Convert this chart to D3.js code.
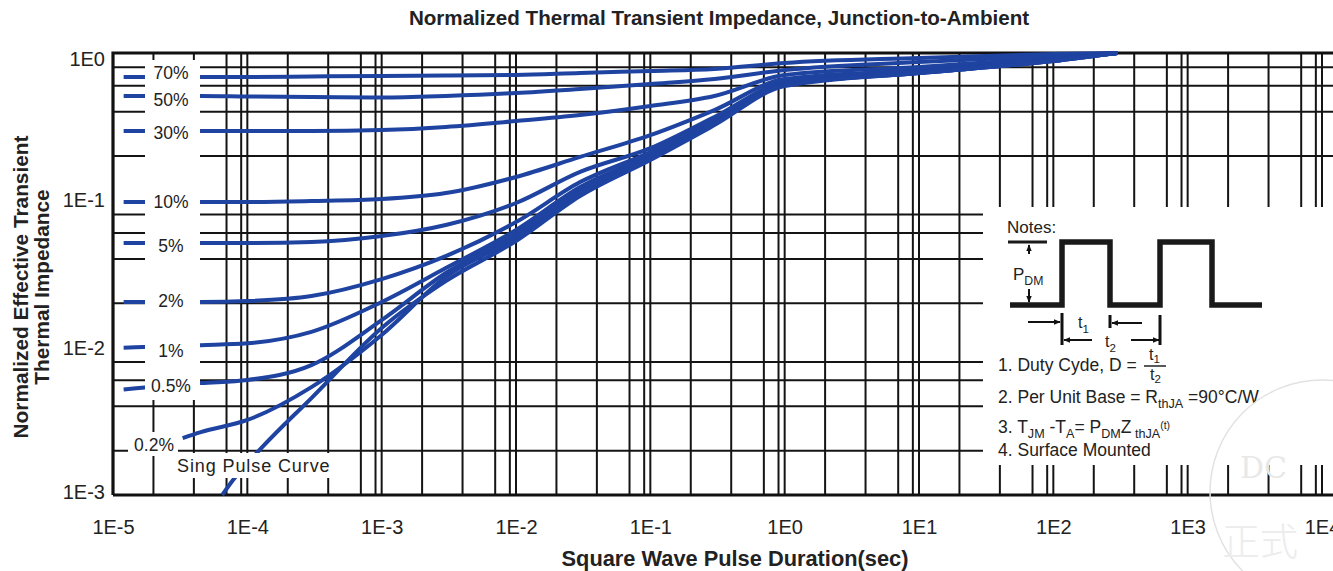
<!DOCTYPE html>
<html>
<head>
<meta charset="utf-8">
<script src="https://cdn.jsdelivr.net/npm/d3@7"></script>
<style>
  body { margin: 0; background: #fff; }
  svg { display: block; font-family: "Liberation Sans", Arial, sans-serif; }
  text { white-space: pre; }
</style>
</head>
<body>
<div id="chart"></div>
<script>
// pulse duration (s) and normalized Zth for each duty cycle
const tDuty   = [1.2e-5, 4.5e-5, 1e-4, 3e-4, 1e-3, 3e-3, 1e-2, 3e-2, 0.1, 0.3, 1, 10, 100, 300];
const z70  = [0.687, 0.687, 0.687, 0.693, 0.698, 0.703, 0.709, 0.732, 0.755, 0.779, 0.855, 0.925, 0.984, 1.0];
const z50  = [0.511, 0.511, 0.507, 0.503, 0.499, 0.511, 0.535, 0.570, 0.616, 0.666, 0.767, 0.869, 0.954, 1.0];
const z30  = [0.295, 0.295, 0.295, 0.295, 0.300, 0.315, 0.345, 0.379, 0.437, 0.511, 0.709, 0.803, 0.925, 1.0];
const z10  = [0.0974, 0.0974, 0.0974, 0.0989, 0.102, 0.112, 0.144, 0.197, 0.277, 0.410, 0.666, 0.767, 0.911, 1.0];
const z5   = [0.0513, 0.0513, 0.0513, 0.0521, 0.0572, 0.0680, 0.0959, 0.156, 0.226, 0.368, 0.635, 0.755, 0.896, 1.0];
const z2   = [0.0204, 0.0204, 0.0207, 0.0224, 0.0292, 0.0418, 0.0712, 0.133, 0.213, 0.351, 0.626, 0.743, 0.896, 1.0];
const z1   = [0.0100, 0.0104, 0.0107, 0.0128, 0.0204, 0.0347, 0.0629, 0.123, 0.203, 0.340, 0.616, 0.743, 0.896, 1.0];
const z05  = [0.0052, 0.00575, 0.00603, 0.00762, 0.0154, 0.0321, 0.0590, 0.117, 0.197, 0.335, 0.606, 0.732, 0.882, 1.0];

const t02 = [3.3e-5, 4.5e-5, 1e-4, 3e-4, 1e-3, 3e-3, 1e-2, 3e-2, 0.1, 0.3, 1, 10, 100, 300];
const z02 = [0.00243, 0.00267, 0.00323, 0.0054, 0.0122, 0.0302, 0.0555, 0.112, 0.194, 0.330, 0.606, 0.732, 0.882, 1.0];

const tSingle = [6.5e-5, 7.8e-5, 1.29e-4, 3e-4, 1e-3, 3e-3, 1e-2, 3e-2, 0.1, 0.3, 1, 10, 100, 300];
const zSingle = [0.001, 0.00126, 0.00211, 0.00455, 0.0136, 0.0283, 0.0529, 0.107, 0.188, 0.324, 0.597, 0.732, 0.882, 1.0];

const dutyLabels = ["70%", "50%", "30%", "10%", "5%", "2%", "1%", "0.5%"];
const dutyValues = [z70, z50, z30, z10, z5, z2, z1, z05];
const labelNudge = [-4, 4, 2, 0, 3, -1, 6, 3];

const xTicks = [1e-5, 1e-4, 1e-3, 1e-2, 1e-1, 1, 10, 100, 1000, 10000];
const xTickLabels = ["1E-5", "1E-4", "1E-3", "1E-2", "1E-1", "1E0", "1E1", "1E2", "1E3", "1E4"];
const yTicks = [1e-3, 1e-2, 1e-1, 1];
const yTickLabels = ["1E-3", "1E-2", "1E-1", "1E0"];

// the printed grid only carries a few lines per decade
const xGridSteps = [1, 2, 4, 7, 9];
const yGridSteps = [2, 4, 6, 8];

const width = 1333, height = 571;
const plotL = 113, plotR = 1333, plotT = 53, plotB = 495;
const blue = "#1f43a0";

const svg = d3.select("#chart").append("svg")
    .attr("width", width)
    .attr("height", height);

const defs = svg.append("defs");
defs.append("marker")
    .attr("id", "ah")
    .attr("viewBox", "0 0 10 10")
    .attr("refX", 9).attr("refY", 5)
    .attr("markerWidth", 7).attr("markerHeight", 7)
    .attr("markerUnits", "userSpaceOnUse")
    .attr("orient", "auto")
  .append("path")
    .attr("d", "M0,1 L10,5 L0,9 Z")
    .attr("fill", "#111");

const x = d3.scaleLog().domain([1e-5, 1e4]).range([plotL, 1322]);
const y = d3.scaleLog().domain([1e-3, 1]).range([plotB, plotT]);

// grid
const xGrid = [];
for (let e = -5; e <= 3; e++) xGridSteps.forEach(m => xGrid.push(m * Math.pow(10, e)));
xGrid.push(1e4);
const yGrid = [];
for (let e = -3; e <= -1; e++) yGridSteps.forEach(m => yGrid.push(m * Math.pow(10, e)));

const grid = svg.append("g").attr("stroke", "#141414").attr("stroke-width", 2);
grid.selectAll("line.v").data(xGrid).enter().append("line")
    .attr("class", "v")
    .attr("x1", d => x(d)).attr("x2", d => x(d))
    .attr("y1", plotT).attr("y2", plotB);
grid.selectAll("line.h").data(yGrid).enter().append("line")
    .attr("class", "h")
    .attr("x1", plotL).attr("x2", plotR)
    .attr("y1", d => y(d)).attr("y2", d => y(d));

// frame
svg.append("path")
    .attr("d", `M${plotL},${plotB} V${plotT} H${plotR} M${plotL},${plotB} H${plotR}`)
    .attr("fill", "none")
    .attr("stroke", "#111")
    .attr("stroke-width", 3.2);

// curves
const line = d3.line()
    .x(d => x(d[0]))
    .y(d => y(d[1]))
    .curve(d3.curveMonotoneX);

const curves = dutyValues.map((z, i) => ({ label: dutyLabels[i], pts: tDuty.map((t, k) => [t, z[k]]) }));
curves.push({ label: "0.2%", pts: t02.map((t, k) => [t, z02[k]]) });
curves.push({ label: "single", pts: tSingle.map((t, k) => [t, zSingle[k]]) });

svg.append("g").selectAll("path").data(curves).enter().append("path")
    .attr("d", d => line(d.pts))
    .attr("fill", "none")
    .attr("stroke", blue)
    .attr("stroke-width", 4)
    .attr("stroke-linecap", "butt");

// label column
svg.append("rect").attr("x", 145).attr("y", 60).attr("width", 55).attr("height", 340).attr("fill", "#fff");
svg.append("g").selectAll("text").data(dutyLabels).enter().append("text")
    .attr("x", 171)
    .attr("y", (d, i) => y(dutyValues[i][1]) + labelNudge[i])
    .attr("dy", "0.36em")
    .attr("text-anchor", "middle")
    .attr("font-size", 17.5)
    .attr("fill", "#222")
    .text(d => d);

svg.append("rect").attr("x", 128).attr("y", 432).attr("width", 50).attr("height", 24).attr("fill", "#fff");
svg.append("text")
    .attr("x", 174).attr("y", y(z02[0]) + 7)
    .attr("dy", "0.36em")
    .attr("text-anchor", "end")
    .attr("font-size", 17.5).attr("fill", "#222")
    .text("0.2%");

svg.append("rect").attr("x", 172).attr("y", 453).attr("width", 164).attr("height", 25).attr("fill", "#fff");
svg.append("text")
    .attr("x", 177).attr("y", 472)
    .attr("font-size", 18).attr("letter-spacing", 0.9).attr("fill", "#222")
    .text("Sing Pulse Curve");

// axes
const xAxis = svg.append("g")
    .attr("transform", `translate(0,${plotB})`)
    .call(d3.axisBottom(x).tickValues(xTicks).tickFormat((d, i) => xTickLabels[i]).tickSize(0).tickPadding(25));
xAxis.select(".domain").remove();
xAxis.selectAll("text").attr("font-size", 20).attr("fill", "#222")
    .attr("font-family", "Liberation Sans, Arial, sans-serif");

const yAxis = svg.append("g")
    .attr("transform", `translate(${plotL},0)`)
    .call(d3.axisLeft(y).tickValues(yTicks).tickFormat((d, i) => yTickLabels[i]).tickSize(0).tickPadding(8));
yAxis.select(".domain").remove();
yAxis.selectAll("text").attr("font-size", 20).attr("fill", "#222")
    .attr("font-family", "Liberation Sans, Arial, sans-serif");
yAxis.selectAll(".tick").filter(d => d === 1).select("text").attr("dy", "0.6em");
yAxis.selectAll(".tick").filter(d => d === 1e-3).select("text").attr("dy", "0.15em");

// titles
svg.append("text")
    .attr("x", 719).attr("y", 25)
    .attr("text-anchor", "middle")
    .attr("font-size", 20.6).attr("font-weight", "bold").attr("fill", "#222")
    .text("Normalized Thermal Transient Impedance, Junction-to-Ambient");

svg.append("text")
    .attr("x", 735).attr("y", 566)
    .attr("text-anchor", "middle")
    .attr("font-size", 21.8).attr("font-weight", "bold").attr("fill", "#222")
    .text("Square Wave Pulse Duration(sec)");

const yTitle = svg.append("text")
    .attr("transform", "translate(28,287) rotate(-90)")
    .attr("text-anchor", "middle")
    .attr("font-size", 20.8).attr("font-weight", "bold").attr("fill", "#222");
yTitle.append("tspan").attr("x", 0).attr("y", 0).text("Normalized Effective Transient");
yTitle.append("tspan").attr("x", 0).attr("y", 21).text("Thermal Impedance");

// notes box
const notes = svg.append("g").attr("transform", "translate(983,207)");
notes.append("rect").attr("width", 360).attr("height", 258).attr("fill", "#fff");
notes.append("text").attr("x", 24).attr("y", 26).attr("font-size", 17).attr("fill", "#222").text("Notes:");

notes.append("path")
    .attr("d", "M27,98 H79 V35 H127 V98 H177 V35 H229 V98 H279")
    .attr("fill", "none").attr("stroke", "#1a1a1a").attr("stroke-width", 5.5);
notes.append("line").attr("x1", 25).attr("x2", 64).attr("y1", 35).attr("y2", 35)
    .attr("stroke", "#1a1a1a").attr("stroke-width", 3);

function arrow(x1, y1, x2, y2) {
  notes.append("line")
      .attr("x1", x1).attr("y1", y1).attr("x2", x2).attr("y2", y2)
      .attr("stroke", "#111").attr("stroke-width", 2)
      .attr("marker-end", "url(#ah)");
}
function bar(xx, y1, y2) {
  notes.append("line").attr("x1", xx).attr("x2", xx).attr("y1", y1).attr("y2", y2)
      .attr("stroke", "#111").attr("stroke-width", 3);
}
arrow(46, 47, 46, 38);
arrow(46, 82, 46, 95);
arrow(45, 115, 77, 115);
arrow(109, 133, 81, 133);
arrow(159, 116, 129, 116);
arrow(148, 133, 176, 133);
bar(79, 106, 138);
bar(127, 108, 121);
bar(177, 108, 138);

function rich(xx, yy, parts, base, subOff) {
  const t = notes.append("text").attr("x", xx).attr("y", yy).attr("fill", "#222");
  let cur = 0;
  parts.forEach(([s, k]) => {
    const off = k === "sub" ? (subOff || 5) : k === "sup" ? -4 : 0;
    t.append("tspan")
        .attr("dy", off - cur)
        .attr("font-size", k === "n" ? base : k === "sup" ? base * 0.6 : base * 0.72)
        .text(s);
    cur = off;
  });
  return t;
}
rich(30, 73, [["P", "n"], ["DM", "sub"]], 17);
rich(95, 121, [["t", "n"], ["1", "sub"]], 16);
rich(122, 140, [["t", "n"], ["2", "sub"]], 16);

rich(15, 164, [["1. Duty Cyde, D =", "n"]], 17.5);
rich(166, 153, [["t", "n"], ["1", "sub"]], 16, 3);
notes.append("line").attr("x1", 161).attr("x2", 183).attr("y1", 159).attr("y2", 159)
    .attr("stroke", "#222").attr("stroke-width", 1.5);
rich(167, 173, [["t", "n"], ["2", "sub"]], 16, 3);

rich(15, 196, [["2. Per Unit Base = R", "n"], ["thJA", "sub"], [" =90\u00B0C/W", "n"]], 17.5);
rich(15, 226, [["3. T", "n"], ["JM", "sub"], [" -T", "n"], ["A", "sub"], ["= P", "n"], ["DM", "sub"], ["Z", "n"], [" thJA", "sub"], ["(t)", "sup"]], 17.5);
rich(15, 249, [["4. Surface Mounted", "n"]], 17.5);

// faint watermark
svg.append("circle").attr("cx", 1322).attr("cy", 492).attr("r", 112)
    .attr("fill", "none").attr("stroke", "#e2e2e2").attr("stroke-width", 1.5);
svg.append("text").attr("x", 1240).attr("y", 478)
    .attr("font-family", "DejaVu Serif, serif").attr("font-size", 30)
    .attr("fill", "#e8e8e8").text("DC");
svg.append("text").attr("x", 1222).attr("y", 555)
    .attr("font-family", "Noto Sans CJK SC, sans-serif").attr("font-size", 38).attr("font-weight", 300)
    .attr("fill", "#ececec").text("正式");
</script>
</body>
</html>
